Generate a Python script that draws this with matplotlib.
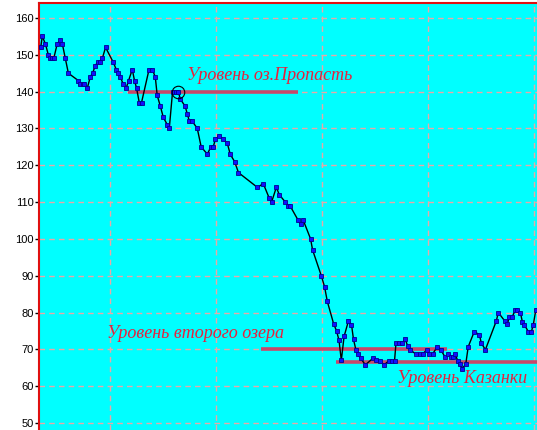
import matplotlib
matplotlib.use("Agg")
import matplotlib.pyplot as plt

# time axis (arbitrary units, grid every 10) and level values
t = [3.46, 3.61, 3.90, 4.18, 4.34, 4.53, 4.69, 5.02, 5.31, 5.50, 5.78, 6.07,
     7.01, 7.20, 7.41, 7.59, 7.86, 8.14, 8.35, 8.61, 8.82, 9.01, 9.27, 9.58,
     10.30, 10.59, 10.77, 10.97, 11.25, 11.53, 11.75, 12.10, 12.31, 12.50,
     12.76, 12.97, 13.68, 13.99, 14.27, 14.45, 14.75, 15.03, 15.41, 15.59,
     15.90, 16.21, 16.44, 16.63, 17.09, 17.29, 17.48, 17.75, 18.23, 18.60,
     19.18, 19.51, 19.74, 19.93, 20.30, 20.69, 21.06, 21.34, 21.75, 22.12,
     23.90, 24.46, 25.03, 25.24, 25.69, 25.97, 26.54, 26.82, 26.98, 27.76,
     27.97, 28.24, 28.92, 29.11, 29.93, 30.24, 30.50, 31.09, 31.37, 31.60,
     31.82, 32.08, 32.48, 32.78, 32.97, 33.21, 33.37, 33.63, 34.09, 34.81,
     35.12, 35.50, 35.85, 36.32, 36.60, 36.84, 36.98, 37.29, 37.58, 37.85,
     38.09, 38.32, 38.84, 39.20, 39.51, 39.86, 40.12, 40.44, 40.88, 41.20,
     41.63, 41.91, 42.17, 42.36, 42.55, 42.80, 42.97, 43.24, 43.56, 43.79,
     44.36, 44.84, 45.03, 45.41, 46.44, 46.63, 47.25, 47.48, 47.67, 47.95,
     48.24, 48.43, 48.71, 48.90, 49.09, 49.46, 49.75, 49.93, 50.17]
level = [152, 155, 153, 150, 149, 149, 149, 153, 154, 153, 149, 145,
         143, 142, 142, 142, 141, 144, 145, 147, 148, 148, 149, 152,
         148, 146, 145, 144, 142, 141, 143, 146, 143, 141,
         137, 137, 146, 146, 144, 139, 136, 133, 131, 130,
         140, 140, 140, 138, 136, 134, 132, 132, 130, 125,
         123, 125, 125, 127, 128, 127, 126, 123, 121, 118,
         114, 115, 111, 110, 114, 112, 110, 109, 109, 105,
         104, 105, 100, 97, 90, 87, 83, 77, 75, 72.5,
         67, 73.5, 77.6, 76.7, 72.7, 69.7, 68.7, 67.6, 65.8, 67.6,
         67.2, 66.8, 65.8, 66.9, 66.9, 66.9, 71.8, 71.8, 71.8, 72.8,
         70.8, 69.8, 68.8, 68.8, 68.8, 69.8, 68.8, 68.8, 70.7, 69.9,
         67.8, 68.8, 67.8, 67.8, 68.8, 66.9, 66.0, 64.8, 66.0, 70.7,
         74.8, 74.0, 71.7, 69.9, 77.7, 80.0, 77.7, 76.8, 78.9, 78.9,
         80.7, 80.7, 80.0, 77.5, 76.7, 74.8, 74.8, 76.7, 80.7]

# reference levels: label, value, start, end
ref_labels = ["Уровень оз.Пропасть", "Уровень второго озера", "Уровень Казанки"]
ref_values = [140, 70, 66.6]
ref_start = [11.67, 24.25, 31.32]
ref_end = [27.74, 41.76, 50.3]
label_x = [17.26, 9.72, 37.05]
label_y = [143.2, 73.1, 60.9]

circled_t = 16.44
circled_v = 140

yticks = [50, 60, 70, 80, 90, 100, 110, 120, 130, 140, 150, 160]
xgrid = [10, 20, 30, 40, 50]

fig = plt.figure(figsize=(5.37, 4.30), dpi=100)
ax = fig.add_axes([39 / 537, 0, 1 - 39 / 537, 1 - 3 / 430])
ax.set_facecolor("#00ffff")
ax.set_xlim(3.30, 50.28)
ax.set_ylim(48.1, 164.07)

ax.set_yticks(yticks)
ax.set_xticks(xgrid)
ax.tick_params(axis="x", length=0, labelbottom=False)
ax.tick_params(axis="y", length=3, width=1, pad=1, labelsize=8, colors="black")
for lab in ax.get_yticklabels():
    lab.set_fontfamily("Liberation Sans")
ax.grid(True, color="#e8a8a8", linestyle=(0, (4, 3)), linewidth=1)
ax.set_axisbelow(True)

for s in ["right", "bottom"]:
    ax.spines[s].set_visible(False)
for s in ["left", "top"]:
    ax.spines[s].set_color("#e01010")
    ax.spines[s].set_linewidth(1.5)

for v, a, b in zip(ref_values, ref_start, ref_end):
    ax.plot([a, b], [v, v], color="#c8486a", linewidth=2.6, solid_capstyle="butt", zorder=2)

ax.plot(t, level, color="black", linewidth=1, zorder=3,
        marker="s", markersize=3.0, markerfacecolor="#1010ff",
        markeredgecolor="#000090", markeredgewidth=0.6)

ax.plot([circled_t], [circled_v], marker="o", markersize=9, markerfacecolor="none",
        markeredgecolor="black", markeredgewidth=0.8, zorder=4)

for txt, x, y in zip(ref_labels, label_x, label_y):
    ax.text(x, y, txt, fontfamily="Liberation Serif", fontstyle="italic",
            fontsize=13, color="#e8203c", va="baseline", ha="left", zorder=5)

fig.savefig("out.png", dpi=100)
